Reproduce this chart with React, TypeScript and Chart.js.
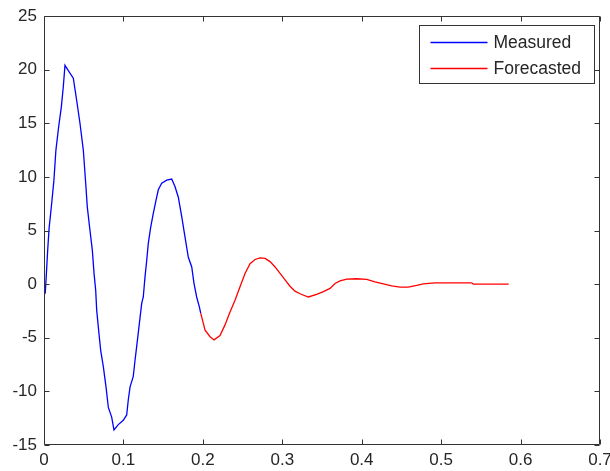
import React, { useEffect, useRef } from 'react';
import { Chart, registerables } from 'chart.js';

Chart.register(...registerables);

// ---- Data ----
const seriesLabels = ['Measured', 'Forecasted'];
const seriesColors = ['#0000FF', '#FF0000'];

const measuredX = [
  0.0015, 0.0028, 0.0045, 0.0064, 0.0095, 0.0125, 0.015, 0.0185, 0.0218, 0.0243,
  0.0264, 0.0306, 0.0369, 0.0412, 0.0453, 0.0495, 0.0525, 0.0545, 0.0579, 0.0608,
  0.063, 0.0651, 0.0663, 0.0692, 0.0714, 0.0747, 0.0781, 0.081, 0.0852, 0.0881,
  0.0935, 0.0998, 0.1041, 0.1061, 0.1083, 0.1124, 0.1146, 0.1167, 0.12, 0.123,
  0.125, 0.1272, 0.1293, 0.1313, 0.1343, 0.1376, 0.141, 0.1439, 0.1482, 0.1545,
  0.1608, 0.1649, 0.1691, 0.1734, 0.1775, 0.1817, 0.186, 0.1888, 0.1922, 0.1955,
  0.1973,
];
const measuredY = [
  -0.9, 0.7, 3.0, 5.2, 7.4, 9.7, 12.5, 14.7, 16.5, 18.4,
  20.4, 19.9, 19.2, 17.1, 15.0, 12.5, 9.4, 7.2, 5.0, 3.2,
  1.0, -0.6, -2.4, -4.6, -6.2, -7.7, -9.6, -11.5, -12.4, -13.6,
  -13.1, -12.7, -12.2, -10.8, -9.6, -8.6, -7.1, -5.8, -3.7, -1.8,
  -1.2, 0.7, 2.2, 3.8, 5.3, 6.6, 7.8, 8.8, 9.4, 9.7,
  9.8, 9.1, 8.1, 6.3, 4.4, 2.5, 1.6, 0.1, -1.2, -2.1,
  -2.7,
];

const forecastX = [
  0.1973, 0.2028, 0.2091, 0.2141, 0.2216, 0.2279, 0.2342, 0.2405, 0.2468, 0.2531,
  0.2594, 0.2657, 0.272, 0.2783, 0.2846, 0.2909, 0.2972, 0.3035, 0.3097, 0.316,
  0.3223, 0.3328, 0.3433, 0.3517, 0.3601, 0.3664, 0.3727, 0.3811, 0.3937, 0.4063,
  0.4167, 0.4272, 0.4377, 0.4482, 0.4586, 0.4692, 0.4776, 0.4922, 0.5153, 0.5385,
  0.5405, 0.585,
];
const forecastY = [
  -2.7, -4.3, -4.9, -5.2, -4.8, -3.8, -2.6, -1.5, -0.25, 1.0,
  1.9, 2.3, 2.45, 2.4, 2.1, 1.6, 1.0, 0.4, -0.2, -0.65,
  -0.9, -1.2, -0.96, -0.7, -0.4, 0.06, 0.3, 0.47, 0.5, 0.44,
  0.22, 0.03, -0.16, -0.28, -0.28, -0.12, 0.03, 0.12, 0.12, 0.12,
  0.0, 0.0,
];

const xTicks = [0, 0.1, 0.2, 0.3, 0.4, 0.5, 0.6, 0.7];
const yTicks = [-15, -10, -5, 0, 5, 10, 15, 20, 25];

const FONT_FAMILY = "'Liberation Sans', Arial, Helvetica, sans-serif";
const TEXT_COLOR = '#262626';
const AXIS_COLOR = '#333333';

const toPoints = (xs: number[], ys: number[]) => xs.map((x, i) => ({ x, y: ys[i] }));

const boxAndTicksPlugin = {
  id: 'boxAndTicks',
  afterDatasetsDraw(chart: any) {
    const { ctx, chartArea } = chart;
    const xs = chart.scales.x;
    const ys = chart.scales.y;
    const L = Math.round(chartArea.left) + 0.5;
    const R = Math.round(chartArea.right) - 0.5;
    const T = Math.round(chartArea.top) + 0.5;
    const B = Math.round(chartArea.bottom) - 0.5;
    const tl = 5;
    ctx.save();
    ctx.strokeStyle = AXIS_COLOR;
    ctx.lineWidth = 1;
    ctx.beginPath();
    ctx.rect(L, T, R - L, B - T);
    xTicks.forEach((v) => {
      const px = Math.round(xs.getPixelForValue(v)) + 0.5;
      ctx.moveTo(px, B);
      ctx.lineTo(px, B - tl);
      ctx.moveTo(px, T);
      ctx.lineTo(px, T + tl);
    });
    yTicks.forEach((v) => {
      const py = Math.round(ys.getPixelForValue(v)) + 0.5;
      ctx.moveTo(L, py);
      ctx.lineTo(L + tl, py);
      ctx.moveTo(R, py);
      ctx.lineTo(R - tl, py);
    });
    ctx.stroke();

    // Legend box (top-right inside the axes)
    ctx.font = `17.5px ${FONT_FAMILY}`;
    const maxText = Math.max(...seriesLabels.map((s) => ctx.measureText(s).width));
    const padL = 11;
    const lineLen = 57;
    const gap = 6;
    const padR = 13;
    const rowH = 26;
    const w = Math.round(padL + lineLen + gap + maxText + padR);
    const h = 58;
    const bx = Math.round(chartArea.right - 6 - w) + 0.5;
    const by = Math.round(chartArea.top + 10) - 0.5;
    ctx.fillStyle = '#ffffff';
    ctx.fillRect(bx, by, w, h);
    ctx.strokeStyle = AXIS_COLOR;
    ctx.lineWidth = 1;
    ctx.strokeRect(bx, by, w, h);
    seriesLabels.forEach((label, i) => {
      const cy = Math.round(by + 16 + i * rowH) + 0.5;
      ctx.strokeStyle = seriesColors[i];
      ctx.lineWidth = 1.3;
      ctx.beginPath();
      ctx.moveTo(bx + padL, cy);
      ctx.lineTo(bx + padL + lineLen, cy);
      ctx.stroke();
      ctx.fillStyle = TEXT_COLOR;
      ctx.textAlign = 'left';
      ctx.textBaseline = 'middle';
      ctx.fillText(label, bx + padL + lineLen + gap, cy + 1);
    });
    ctx.restore();
  },
};

export default function App() {
  const canvasRef = useRef<HTMLCanvasElement | null>(null);

  useEffect(() => {
    const canvas = canvasRef.current;
    if (!canvas) return;
    const chart = new Chart(canvas, {
      type: 'line',
      data: {
        datasets: [
          {
            label: seriesLabels[0],
            data: toPoints(measuredX, measuredY),
            borderColor: seriesColors[0],
            backgroundColor: seriesColors[0],
            borderWidth: 1.3,
            pointRadius: 0,
            tension: 0,
            fill: false,
          },
          {
            label: seriesLabels[1],
            data: toPoints(forecastX, forecastY),
            borderColor: seriesColors[1],
            backgroundColor: seriesColors[1],
            borderWidth: 1.3,
            pointRadius: 0,
            tension: 0,
            fill: false,
          },
        ],
      },
      options: {
        animation: false,
        responsive: false,
        devicePixelRatio: 1,
        layout: { padding: { top: 16, right: 10, left: 0, bottom: 0 } },
        plugins: {
          legend: { display: false },
          tooltip: { enabled: false },
        },
        scales: {
          x: {
            type: 'linear',
            min: 0,
            max: 0.7,
            afterBuildTicks: (scale: any) => {
              scale.ticks = xTicks.map((v) => ({ value: v }));
            },
            afterFit: (scale: any) => {
              scale.height = 26;
              scale.paddingLeft = 0;
              scale.paddingRight = 0;
            },
            grid: { display: false, drawTicks: false },
            border: { display: false },
            ticks: {
              padding: 5,
              color: TEXT_COLOR,
              font: { family: FONT_FAMILY, size: 17 },
              maxRotation: 0,
              autoSkip: false,
              callback: (v: any) => String(Number(Number(v).toFixed(1))),
            },
          },
          y: {
            type: 'linear',
            min: -15,
            max: 25,
            afterBuildTicks: (scale: any) => {
              scale.ticks = yTicks.map((v) => ({ value: v }));
            },
            afterFit: (scale: any) => {
              scale.width = 44;
              scale.paddingTop = 0;
              scale.paddingBottom = 0;
            },
            grid: { display: false, drawTicks: false },
            border: { display: false },
            ticks: {
              padding: 7,
              color: TEXT_COLOR,
              font: { family: FONT_FAMILY, size: 17 },
              autoSkip: false,
              callback: (v: any) => String(v),
            },
          },
        },
      },
      plugins: [boxAndTicksPlugin],
    } as any);
    return () => chart.destroy();
  }, []);

  return (
    <div style={{ position: 'fixed', left: 0, top: 0, width: 610, height: 471, background: '#ffffff' }}>
      <canvas ref={canvasRef} width={610} height={471} style={{ width: 610, height: 471, display: 'block' }} />
    </div>
  );
}
